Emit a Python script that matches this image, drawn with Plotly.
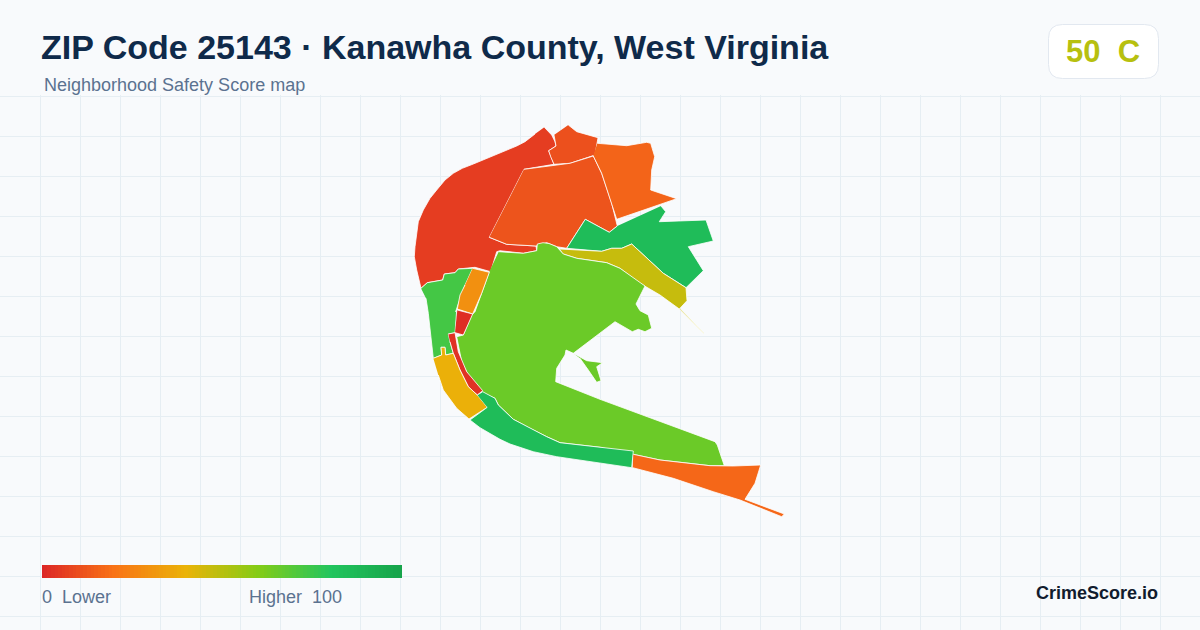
"""ZIP 25143 safety score map, drawn as filled polygons on a pixel-sized plane."""

import plotly.graph_objects as go

WIDTH = 1200
HEIGHT = 630
GRID_TOP = 95

BG = "#f8fafc"
GRID = "#e6eef3"
TITLE_COLOR = "#0f2a4a"
MUTED = "#5b7290"
FONT = "Liberation Sans"

score_stops = [0, 0.2, 0.4, 0.6, 0.8, 1]
score_colors = ["#dc2626", "#f97316", "#eab308", "#84cc16", "#22c55e", "#16a34a"]
legend_scores = list(range(0, 101))

overall_score = 50
overall_grade = "C"

# neighborhood scores
scores = {
    "north_river": 6,
    "top_wedge": 11,
    "middle": 12,
    "top_right": 16,
    "east": 85,
    "east_strip": 47,
    "main": 65,
    "west": 73,
    "west_orange": 29,
    "west_red": 2,
    "river_red": 3,
    "south_amber": 39,
    "south_green": 85,
    "south_east": 17,
}

# outlines, in map plane units
north_river_x = [544.3, 551.7, 555, 556, 548.7, 550.7, 554, 524, 489.3, 506.7, 536, 536.7, 523.3, 500, 496.7, 490.7, 475, 458.3, 455, 444.3, 442.7, 427.3, 421, 416.7, 414.3, 415, 416, 418.3, 423.3, 430, 436.7, 445, 453.3, 462.3, 473.3, 483.3, 495, 506.7, 516.7, 525, 535]
north_river_y = [127.3, 135, 141.7, 146, 150.7, 156.7, 164.3, 169.3, 237.3, 244.3, 246, 250.7, 253.3, 250.7, 251.7, 271.7, 267.3, 269, 272.7, 274, 280, 282.7, 288.3, 270, 256.7, 246.7, 238.3, 221.7, 210, 198.3, 190, 180, 173.3, 168.3, 164, 160, 155, 150, 146, 141.7, 134]

top_wedge_x = [568.3, 576.7, 598, 595, 570, 554, 550.7, 548.7, 556, 555, 554]
top_wedge_y = [125, 131.7, 137.7, 155, 163.3, 164.3, 156.7, 150.7, 146, 141.7, 135]

middle_x = [524, 556.7, 570, 593.3, 601.7, 611.7, 617.3, 609.3, 585.3, 566.7, 556.7, 546.7, 536, 506.7, 489.3]
middle_y = [169.3, 165, 163.3, 156, 173.3, 203.3, 226, 232.3, 219.3, 248.3, 246.7, 242.7, 246, 244.3, 237.3]

top_right_x = [597.3, 626.7, 646.7, 650.7, 654.7, 651.7, 650.7, 676.7, 616.7, 611.7, 601.7, 593.3]
top_right_y = [143.3, 145.7, 142.3, 143.3, 156.7, 170, 190, 198.7, 219.3, 203.3, 173.3, 156]

east_x = [661, 665.7, 659.3, 706, 713.3, 688.3, 703.3, 686, 663.3, 631.7, 621.7, 611.7, 601.7, 586.7, 566.7, 585.3, 609.3, 617.3]
east_y = [206, 211.7, 221.7, 220, 241, 246.7, 270.7, 287.7, 273.3, 244, 248.3, 248.3, 251.3, 250, 248.3, 219.3, 232.3, 226]

east_strip_x = [560, 586.7, 601.7, 611.7, 621.7, 631.7, 663.3, 686, 687, 679.3, 660, 640, 620, 606.7, 576.7, 563.3, None, 679.3, 703.5, 703.8, 680]
east_strip_y = [249, 250, 251.3, 248.3, 248.3, 244, 273.3, 287.7, 300.7, 309, 295, 283.3, 268.3, 262.7, 258.3, 254, None, 309, 333.5, 333, 308.5]

main_x = [498.7, 523.3, 536.7, 537.3, 543, 549, 556.7, 563.3, 576.7, 606.7, 620, 645, 636, 640, 648.3, 651.7, 645, 638.3, 632.3, 615, 573.3, 566, 565, 556.7, 555.7, 600, 715, 717.3, 724.3, 710, 660, 633.3, 600, 560, 546.7, 530, 513.3, 498.3, 495, 483.3, 468.3, 461.7, 456.7, 463.3, 471.7, 475, 481.7, 489.3, None, 573.3, 586.7, 602.7, 596.7, 601, 596.7, 588.3, 580]
main_y = [251.7, 253.3, 250.7, 244, 242.7, 243.5, 246.7, 254, 258.3, 262.7, 268.3, 286, 304, 310.7, 315, 328.3, 331.7, 329.3, 331.7, 321.7, 353.3, 350, 355, 368.3, 381.7, 399.3, 441.7, 445, 465.7, 465.7, 460, 454.3, 447.3, 442.7, 436.7, 428.3, 419.3, 405, 398.3, 393.3, 375, 361.7, 336.7, 335, 315, 311.7, 293.3, 271.7, None, 353.3, 360.7, 362.7, 366.7, 380.7, 382.3, 370, 358.3]

west_x = [421, 427.3, 442.7, 444.3, 455, 458.3, 472.7, 465, 457.3, 455.7, 456.7, 455, 448.3, 450, 453.3, 445.7, 445, 441, 441.7, 433.3, 431.7, 430, 428.3, 426]
west_y = [288.3, 282.7, 280, 274, 272.7, 269, 268.3, 285, 306.7, 311.7, 310, 332.7, 334, 341.7, 353.3, 355, 347.3, 347.3, 355, 358.3, 343.3, 330, 313.3, 298.3]

west_orange_x = [472.7, 489.3, 481.7, 475, 472.7, 457.3, 460, 465]
west_orange_y = [268.3, 272.3, 293.3, 310, 314, 309, 295, 285]

west_red_x = [457.3, 472.7, 463.3, 455]
west_red_y = [310, 314, 335, 332.7]

river_red_x = [448.3, 455, 458.3, 466.7, 482.7, 477.3, 468.3, 460, 453.3, 450]
river_red_y = [334, 332.7, 351.7, 371.7, 390.7, 395, 386.7, 370, 353.3, 341.7]

south_amber_x = [433.3, 441.7, 441, 445, 445.7, 453.3, 460, 468.3, 477.3, 487.3, 469, 456.7, 443.3, 438.3]
south_amber_y = [358.3, 355, 347.3, 347.3, 355, 353.3, 370, 386.7, 395, 407.3, 419, 408.3, 390, 375]

south_green_x = [477.3, 482.7, 495, 498.3, 513.3, 530, 546.7, 560, 600, 633.3, 631.7, 586.7, 556.7, 533.3, 510, 500, 480, 470, 487.3]
south_green_y = [395, 391.7, 398.3, 405, 419.3, 428.3, 436.7, 442.7, 447.3, 451, 467.7, 460.7, 456.7, 451.7, 444, 439.3, 427.7, 420, 407.3]

south_east_x = [633.3, 660, 710, 733.3, 760.7, 755, 745, 784.3, 781.7, 740, 713.3, 673.3, 632.7]
south_east_y = [454.3, 460, 465.7, 466, 465, 483.3, 499.3, 514, 516.7, 500, 491.7, 478.3, 467.7]

regions = [
    ("north_river", north_river_x, north_river_y),
    ("top_wedge", top_wedge_x, top_wedge_y),
    ("middle", middle_x, middle_y),
    ("top_right", top_right_x, top_right_y),
    ("east", east_x, east_y),
    ("east_strip", east_strip_x, east_strip_y),
    ("main", main_x, main_y),
    ("west", west_x, west_y),
    ("west_orange", west_orange_x, west_orange_y),
    ("west_red", west_red_x, west_red_y),
    ("river_red", river_red_x, river_red_y),
    ("south_amber", south_amber_x, south_amber_y),
    ("south_green", south_green_x, south_green_y),
    ("south_east", south_east_x, south_east_y),
]

colorscale = list(zip(score_stops, score_colors))


def score_color(score):
    t = score / 100
    for i in range(len(score_stops) - 1):
        if t <= score_stops[i + 1]:
            break
    f = (t - score_stops[i]) / (score_stops[i + 1] - score_stops[i])
    a = score_colors[i]
    b = score_colors[i + 1]
    rgb = []
    for k in (1, 3, 5):
        lo = int(a[k:k + 2], 16)
        hi = int(b[k:k + 2], 16)
        rgb.append(round(lo + (hi - lo) * f))
    return f"rgb({rgb[0]},{rgb[1]},{rgb[2]})"


def px_x(x):
    return x / WIDTH


def px_y(y):
    return 1 - y / HEIGHT


def rounded_box(x0, y0, x1, y1, r):
    # svg path in paper fractions
    pts = [
        ("M", x0 + r, y0), ("L", x1 - r, y0), ("Q", x1, y0, x1, y0 + r),
        ("L", x1, y1 - r), ("Q", x1, y1, x1 - r, y1), ("L", x0 + r, y1),
        ("Q", x0, y1, x0, y1 - r), ("L", x0, y0 + r), ("Q", x0, y0, x0 + r, y0),
    ]
    parts = []
    for p in pts:
        coords = [f"{px_x(p[i])},{px_y(p[i + 1])}" for i in range(1, len(p), 2)]
        parts.append(p[0] + " ".join(coords))
    return " ".join(parts) + " Z"


def label(text, x, y, size, color, bold=False, anchor="left"):
    fig.add_annotation(
        text=f"<b>{text}</b>" if bold else text,
        x=px_x(x), y=px_y(y), xref="paper", yref="paper",
        xanchor=anchor, yanchor="middle", showarrow=False,
        font={"family": FONT, "size": size, "color": color},
    )


fig = go.Figure()

for name, xs, ys in regions:
    fig.add_trace(go.Scatter(
        x=xs, y=ys, name=name, mode="lines", fill="toself",
        fillcolor=score_color(scores[name]),
        line={"color": "#ffffff", "width": 0.8},
        hoverinfo="name",
    ))

# legend gradient
fig.add_trace(go.Heatmap(
    x=legend_scores, y=[0], z=[legend_scores],
    xaxis="x2", yaxis="y2",
    colorscale=colorscale, zmin=0, zmax=100,
    showscale=False, hoverinfo="skip",
))

fig.add_shape(
    type="path", path=rounded_box(1048.5, 24.5, 1158.5, 78.5, 14),
    xref="paper", yref="paper", fillcolor="#ffffff",
    line={"color": "#e2e8f0", "width": 1},
)

label("ZIP Code 25143 · Kanawha County, West Virginia", 39, 47, 34, TITLE_COLOR, bold=True)
label("Neighborhood Safety Score map", 42, 85, 18, MUTED)
label(f"{overall_score}\u00a0\u00a0{overall_grade}", 1103, 51, 31, score_color(overall_score), bold=True, anchor="center")
label("0\u00a0\u00a0Lower", 40, 597, 18, MUTED)
label("Higher\u00a0\u00a0100", 247, 597, 18, MUTED)
label("CrimeScore.io", 1160, 593, 18, "#111c2e", bold=True, anchor="right")

fig.update_layout(
    width=WIDTH, height=HEIGHT,
    margin={"l": 0, "r": 0, "t": 0, "b": 0},
    paper_bgcolor=BG, plot_bgcolor=BG,
    showlegend=False,
    xaxis={
        "range": [0, WIDTH], "domain": [0, 1], "tick0": 0.5, "dtick": 40,
        "showgrid": True, "gridcolor": GRID, "gridwidth": 1,
        "zeroline": False, "showticklabels": False, "ticks": "",
    },
    yaxis={
        "range": [HEIGHT, GRID_TOP], "domain": [0, 1 - GRID_TOP / HEIGHT],
        "tick0": 96.5, "dtick": 40,
        "showgrid": True, "gridcolor": GRID, "gridwidth": 1,
        "zeroline": False, "showticklabels": False, "ticks": "",
    },
    xaxis2={
        "domain": [42 / WIDTH, 402 / WIDTH], "range": [0, 100], "anchor": "y2",
        "visible": False,
    },
    yaxis2={
        "domain": [1 - 578 / HEIGHT, 1 - 565 / HEIGHT], "range": [-0.5, 0.5], "anchor": "x2",
        "visible": False,
    },
)

fig.write_html(
    "out.html",
    config={"displayModeBar": False},
    post_script="document.body.style.margin='0';",
)
